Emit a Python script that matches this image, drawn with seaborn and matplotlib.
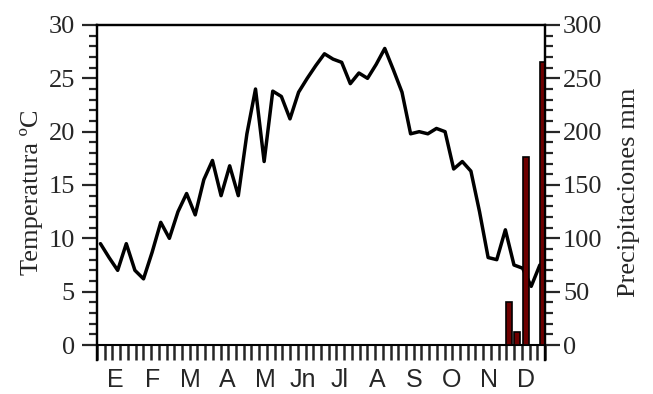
import numpy as np
import pandas as pd
import matplotlib
matplotlib.use("Agg")
import matplotlib.pyplot as plt
import seaborn as sns

# weekly data (52 weeks)
weeks = list(range(52))
temperature = [9.5, 8.2, 7.0, 9.5, 7.0, 6.2, 8.7, 11.5, 10.0, 12.5,
               14.2, 12.2, 15.5, 17.3, 14.0, 16.8, 14.0, 19.8, 24.0, 17.2,
               23.8, 23.3, 21.2, 23.7, 25.0, 26.2, 27.3, 26.8, 26.5, 24.5,
               25.5, 25.0, 26.3, 27.8, 25.8, 23.7, 19.8, 20.0, 19.8, 20.3,
               20.0, 16.5, 17.2, 16.3, 12.5, 8.2, 8.0, 10.8, 7.5, 7.2,
               5.5, 7.5]
precipitation = [0] * 47 + [40, 12, 176, 0, 265]
months = ["E", "F", "M", "A", "M", "Jn", "Jl", "A", "S", "O", "N", "D"]

SERIF = "Liberation Serif"
SANS = "Liberation Sans"
BAR_RED = "#6e0000"


def build_figure():
    sns.set_style("white")
    plt.rcParams["font.family"] = [SERIF, "DejaVu Serif"]

    fig = plt.figure(figsize=(6.53, 3.94), dpi=100)
    ax = fig.add_axes([97 / 653, 1 - 360 / 394, 448 / 653, 335 / 394])
    ax2 = ax.twinx()

    df = pd.DataFrame({"week": weeks, "temp": temperature, "prec": precipitation})

    # temperature line (left axis)
    sns.lineplot(data=df, x="week", y="temp", ax=ax, color="black", lw=2.5)

    # precipitation bars (right axis), drawn on top of the line
    df["bar_x"] = df["week"] + 0.4
    ax2.axhline(0, color="black", lw=1.5, zorder=1)
    sns.barplot(data=df, x="bar_x", y="prec", ax=ax2, native_scale=True,
                color=BAR_RED, saturation=1, edgecolor="black", linewidth=1.2,
                width=0.7, errorbar=None, zorder=2)

    # limits: axes box goes a little below zero, like the original
    ax.set_xlim(-0.4, 51.6)
    ax.set_ylim(-15 * 30 / 320, 30)
    ax2.set_ylim(-15 * 300 / 320, 300)

    # left axis ticks
    ax.set_yticks(np.arange(0, 31, 5))
    ax.set_yticks(np.arange(0, 31, 1), minor=True)
    ax.tick_params(axis="y", which="major", direction="out", length=11,
                   width=1.6, labelsize=19, pad=5, left=True)
    ax.tick_params(axis="y", which="minor", direction="out", length=6,
                   width=1.6, left=True)

    # right axis ticks
    ax2.set_yticks(np.arange(0, 301, 50))
    ax2.set_yticks(np.arange(0, 301, 10), minor=True)
    ax2.tick_params(axis="y", which="major", direction="out", length=11,
                    width=1.6, labelsize=19, pad=2, right=True)
    ax2.tick_params(axis="y", which="minor", direction="out", length=6,
                    width=1.6, right=True)

    # x axis: dense tick marks, month names centred in each month
    lo, hi = ax.get_xlim()
    ax.set_xticks(np.linspace(lo, hi, 59))
    ax.tick_params(axis="x", which="major", direction="in", length=11,
                   width=1.8, labelbottom=False, bottom=True)
    month_w = (hi - lo) / 12
    ax.set_xticks([lo + month_w * (i + 0.5) for i in range(12)], minor=True)
    ax.set_xticklabels(months, minor=True, fontfamily=SANS, fontsize=18)
    ax.tick_params(axis="x", which="minor", length=0, pad=6)

    for a in (ax, ax2):
        for side in ("left", "right", "top"):
            a.spines[side].set_visible(True)
            a.spines[side].set_linewidth(1.6)
            a.spines[side].set_color("black")
        a.spines["bottom"].set_visible(False)
    ax2.xaxis.set_visible(False)

    ax.set_xlabel("")
    ax.set_ylabel("Temperatura ºC", fontsize=19, labelpad=4)
    ax2.set_ylabel("Precipitaciones mm", fontsize=19, labelpad=11)
    ax2.set_xlim(lo, hi)

    return fig


def main():
    fig = build_figure()
    fig.savefig("out.png", dpi=100)


if __name__ == "__main__":
    main()
